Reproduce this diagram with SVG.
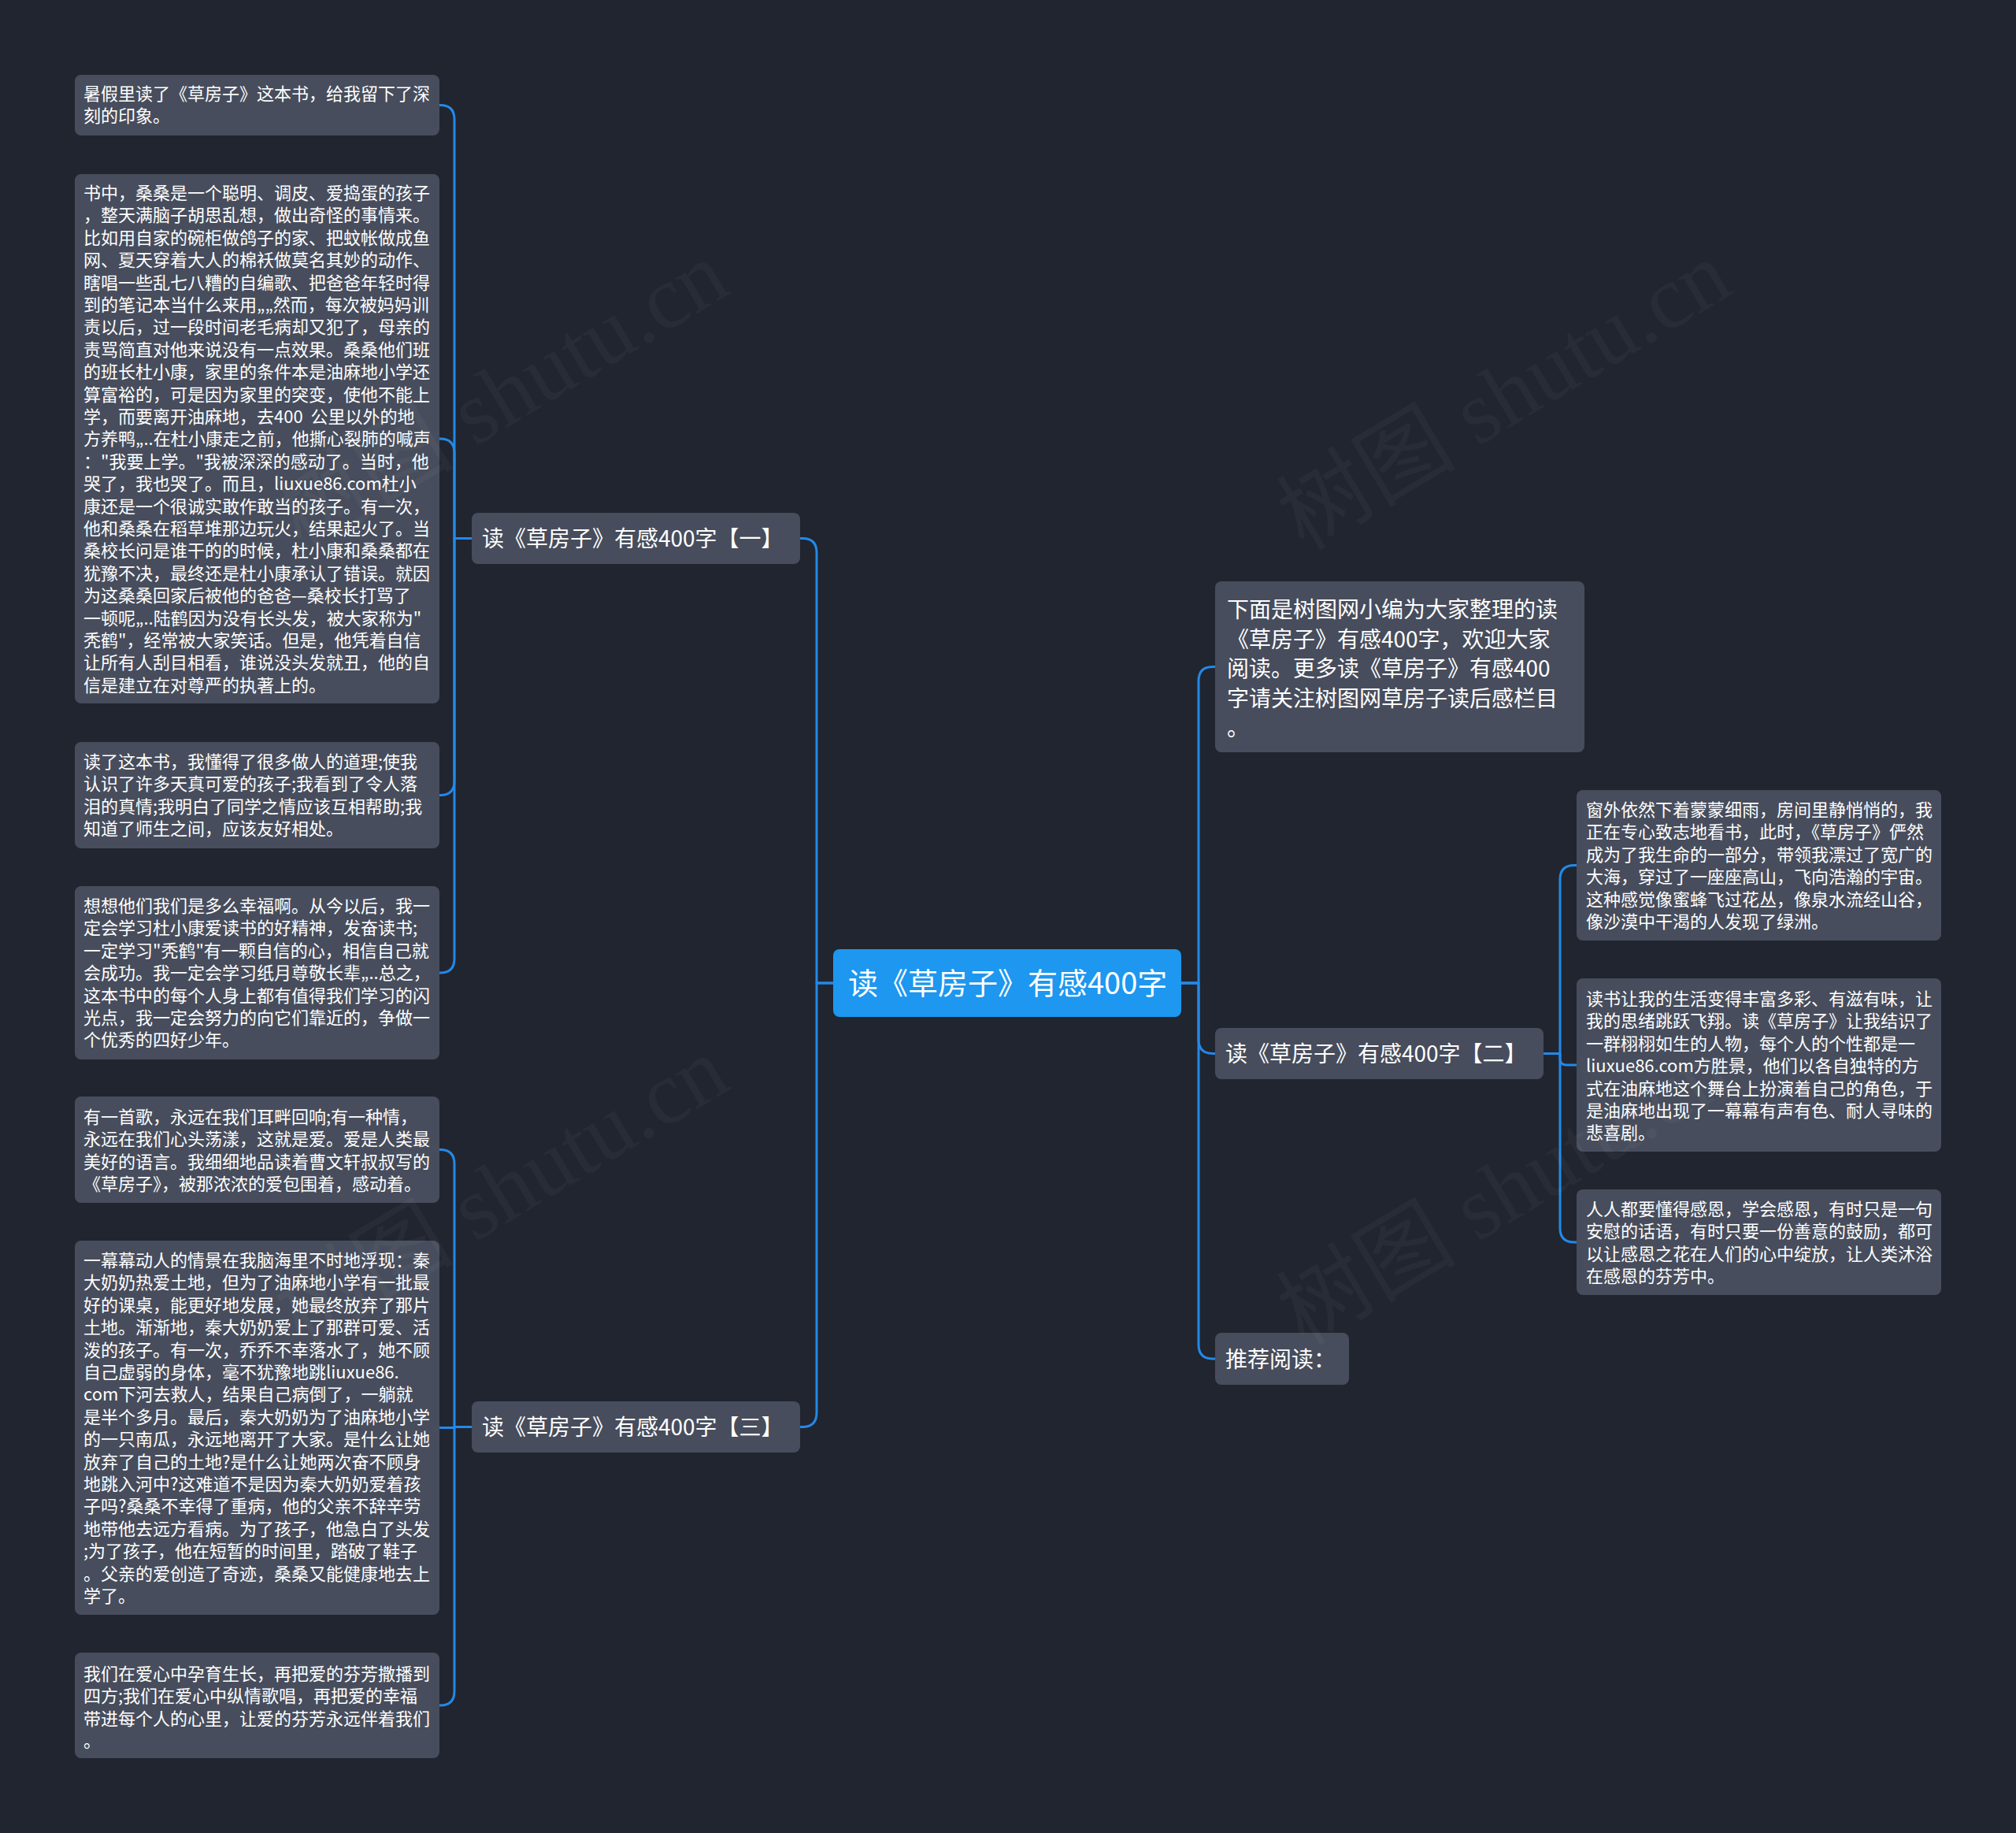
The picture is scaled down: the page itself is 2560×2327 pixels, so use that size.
<svg xmlns="http://www.w3.org/2000/svg" width="2560" height="2327" viewBox="0 0 2560 2327">
<style>
.bg{fill:#21252f}
.node{fill:#474d5c}
.root{fill:#1d97ef}
.t{font-family:"Noto Sans CJK SC","Microsoft YaHei",sans-serif;fill:#ffffff}
.s22{font-size:22px}
.s28{font-size:28px}
.s38{font-size:38px}
.edge{fill:none;stroke:#2389e8;stroke-width:3;stroke-linecap:round;stroke-linejoin:round}
.wm{font-family:"Liberation Serif","Noto Sans CJK SC",serif;font-size:114px;fill:#ffffff;fill-opacity:0.035}
</style>
<rect class="bg" x="0" y="0" width="2560" height="2327"/>

<g id="connectors">
<path class="edge" d="M1058,1248 H1037 V701.5 Q1037,683.5 1019,683.5 H1016"/>
<path class="edge" d="M1058,1248 H1037 V1793.5 Q1037,1811.5 1019,1811.5 H1016"/>
<path class="edge" d="M1500,1248 H1522 V864.5 Q1522,846.5 1540,846.5 H1543"/>
<path class="edge" d="M1500,1248 H1522 V1319.5 Q1522,1337.5 1540,1337.5 H1543"/>
<path class="edge" d="M1500,1248 H1522 V1707 Q1522,1725 1540,1725 H1543"/>
<path class="edge" d="M599,683.5 H577 V151.5 Q577,133.5 559,133.5 H558"/>
<path class="edge" d="M599,683.5 H577 V575 Q577,557 559,557 H558"/>
<path class="edge" d="M599,683.5 H577 V991.5 Q577,1009.5 559,1009.5 H558"/>
<path class="edge" d="M599,683.5 H577 V1217 Q577,1235 559,1235 H558"/>
<path class="edge" d="M599,1811.5 H577 V1477.5 Q577,1459.5 559,1459.5 H558"/>
<path class="edge" d="M599,1811.5 H577 V1812.5 H558"/>
<path class="edge" d="M599,1811.5 H577 V2147 Q577,2165 559,2165 H558"/>
<path class="edge" d="M1960,1337.5 H1981 V1116.5 Q1981,1098.5 1999,1098.5 H2002"/>
<path class="edge" d="M1960,1337.5 H1981 V1344 Q1981,1352 1989,1352 H2002"/>
<path class="edge" d="M1960,1337.5 H1981 V1559 Q1981,1577 1999,1577 H2002"/>
</g>

<g id="root">
<rect class="root" x="1058" y="1205" width="442" height="86" rx="8"/>
<text class="t s38" x="1077" y="1262">读《草房子》有感400字</text>
</g>

<g id="branch1">
<rect class="node" x="599" y="651" width="417" height="65" rx="8"/>
<text class="t s28" x="612" y="694">读《草房子》有感400字【一】</text>
</g>

<g id="branch3">
<rect class="node" x="599" y="1779" width="417" height="65" rx="8"/>
<text class="t s28" x="612" y="1822">读《草房子》有感400字【三】</text>
</g>

<g id="branch2">
<rect class="node" x="1543" y="1305" width="417" height="65" rx="8"/>
<text class="t s28" x="1556" y="1348">读《草房子》有感400字【二】</text>
</g>

<g id="recommend">
<rect class="node" x="1543" y="1692" width="170" height="66" rx="8"/>
<text class="t s28" x="1556" y="1736">推荐阅读：</text>
</g>

<g id="intro">
<rect class="node" x="1543" y="738" width="469" height="217" rx="8"/>
<text class="t s28" x="1558" y="784">
<tspan x="1558" y="784">下面是树图网小编为大家整理的读</tspan>
<tspan x="1558" y="821.5">《草房子》有感400字，欢迎大家</tspan>
<tspan x="1558" y="859">阅读。更多读《草房子》有感400</tspan>
<tspan x="1558" y="896.5">字请关注树图网草房子读后感栏目</tspan>
<tspan x="1558" y="934">。</tspan>
</text>
</g>

<g id="l1">
<rect class="node" x="95" y="95" width="463" height="77" rx="8"/>
<text class="t s22">
<tspan x="106" y="127">暑假里读了《草房子》这本书，给我留下了深</tspan>
<tspan x="106" y="155.4">刻的印象。</tspan>
</text>
</g>

<g id="l2">
<rect class="node" x="95" y="221" width="463" height="672" rx="8"/>
<text class="t s22">
<tspan x="106" y="253">书中，桑桑是一个聪明、调皮、爱捣蛋的孩子</tspan>
<tspan x="106" y="281.4">，整天满脑子胡思乱想，做出奇怪的事情来。</tspan>
<tspan x="106" y="309.8">比如用自家的碗柜做鸽子的家、把蚊帐做成鱼</tspan>
<tspan x="106" y="338.2">网、夏天穿着大人的棉袄做莫名其妙的动作、</tspan>
<tspan x="106" y="366.6">瞎唱一些乱七八糟的自编歌、把爸爸年轻时得</tspan>
<tspan x="106" y="395">到的笔记本当什么来用„„然而，每次被妈妈训</tspan>
<tspan x="106" y="423.4">责以后，过一段时间老毛病却又犯了，母亲的</tspan>
<tspan x="106" y="451.8">责骂简直对他来说没有一点效果。桑桑他们班</tspan>
<tspan x="106" y="480.2">的班长杜小康，家里的条件本是油麻地小学还</tspan>
<tspan x="106" y="508.6">算富裕的，可是因为家里的突变，使他不能上</tspan>
<tspan x="106" y="537">学，而要离开油麻地，去400&#160;&#160;公里以外的地</tspan>
<tspan x="106" y="565.4">方养鸭„..在杜小康走之前，他撕心裂肺的喊声</tspan>
<tspan x="106" y="593.8">："我要上学。"我被深深的感动了。当时，他</tspan>
<tspan x="106" y="622.2">哭了，我也哭了。而且，liuxue86.com杜小</tspan>
<tspan x="106" y="650.6">康还是一个很诚实敢作敢当的孩子。有一次，</tspan>
<tspan x="106" y="679">他和桑桑在稻草堆那边玩火，结果起火了。当</tspan>
<tspan x="106" y="707.4">桑校长问是谁干的的时候，杜小康和桑桑都在</tspan>
<tspan x="106" y="735.8">犹豫不决，最终还是杜小康承认了错误。就因</tspan>
<tspan x="106" y="764.2">为这桑桑回家后被他的爸爸—桑校长打骂了</tspan>
<tspan x="106" y="792.6">一顿呢„..陆鹤因为没有长头发，被大家称为"</tspan>
<tspan x="106" y="821">秃鹤"，经常被大家笑话。但是，他凭着自信</tspan>
<tspan x="106" y="849.4">让所有人刮目相看，谁说没头发就丑，他的自</tspan>
<tspan x="106" y="877.8">信是建立在对尊严的执著上的。</tspan>
</text>
</g>

<g id="l3">
<rect class="node" x="95" y="942" width="463" height="135" rx="8"/>
<text class="t s22">
<tspan x="106" y="975">读了这本书，我懂得了很多做人的道理;使我</tspan>
<tspan x="106" y="1003.4">认识了许多天真可爱的孩子;我看到了令人落</tspan>
<tspan x="106" y="1031.8">泪的真情;我明白了同学之情应该互相帮助;我</tspan>
<tspan x="106" y="1060.2">知道了师生之间，应该友好相处。</tspan>
</text>
</g>

<g id="l4">
<rect class="node" x="95" y="1125" width="463" height="220" rx="8"/>
<text class="t s22">
<tspan x="106" y="1158">想想他们我们是多么幸福啊。从今以后，我一</tspan>
<tspan x="106" y="1186.4">定会学习杜小康爱读书的好精神，发奋读书;</tspan>
<tspan x="106" y="1214.8">一定学习"秃鹤"有一颗自信的心，相信自己就</tspan>
<tspan x="106" y="1243.2">会成功。我一定会学习纸月尊敬长辈„..总之，</tspan>
<tspan x="106" y="1271.6">这本书中的每个人身上都有值得我们学习的闪</tspan>
<tspan x="106" y="1300">光点，我一定会努力的向它们靠近的，争做一</tspan>
<tspan x="106" y="1328.4">个优秀的四好少年。</tspan>
</text>
</g>

<g id="l5">
<rect class="node" x="95" y="1392" width="463" height="135" rx="8"/>
<text class="t s22">
<tspan x="106" y="1426">有一首歌，永远在我们耳畔回响;有一种情，</tspan>
<tspan x="106" y="1454.4">永远在我们心头荡漾，这就是爱。爱是人类最</tspan>
<tspan x="106" y="1482.8">美好的语言。我细细地品读着曹文轩叔叔写的</tspan>
<tspan x="106" y="1511.2">《草房子》，被那浓浓的爱包围着，感动着。</tspan>
</text>
</g>

<g id="l6">
<rect class="node" x="95" y="1575" width="463" height="475" rx="8"/>
<text class="t s22">
<tspan x="106" y="1608">一幕幕动人的情景在我脑海里不时地浮现：秦</tspan>
<tspan x="106" y="1636.4">大奶奶热爱土地，但为了油麻地小学有一批最</tspan>
<tspan x="106" y="1664.8">好的课桌，能更好地发展，她最终放弃了那片</tspan>
<tspan x="106" y="1693.2">土地。渐渐地，秦大奶奶爱上了那群可爱、活</tspan>
<tspan x="106" y="1721.6">泼的孩子。有一次，乔乔不幸落水了，她不顾</tspan>
<tspan x="106" y="1750">自己虚弱的身体，毫不犹豫地跳liuxue86.</tspan>
<tspan x="106" y="1778.4">com下河去救人，结果自己病倒了，一躺就</tspan>
<tspan x="106" y="1806.8">是半个多月。最后，秦大奶奶为了油麻地小学</tspan>
<tspan x="106" y="1835.2">的一只南瓜，永远地离开了大家。是什么让她</tspan>
<tspan x="106" y="1863.6">放弃了自己的土地?是什么让她两次奋不顾身</tspan>
<tspan x="106" y="1892">地跳入河中?这难道不是因为秦大奶奶爱着孩</tspan>
<tspan x="106" y="1920.4">子吗?桑桑不幸得了重病，他的父亲不辞辛劳</tspan>
<tspan x="106" y="1948.8">地带他去远方看病。为了孩子，他急白了头发</tspan>
<tspan x="106" y="1977.2">;为了孩子，他在短暂的时间里，踏破了鞋子</tspan>
<tspan x="106" y="2005.6">。父亲的爱创造了奇迹，桑桑又能健康地去上</tspan>
<tspan x="106" y="2034">学了。</tspan>
</text>
</g>

<g id="l7">
<rect class="node" x="95" y="2098" width="463" height="134" rx="8"/>
<text class="t s22">
<tspan x="106" y="2133">我们在爱心中孕育生长，再把爱的芬芳撒播到</tspan>
<tspan x="106" y="2161.4">四方;我们在爱心中纵情歌唱，再把爱的幸福</tspan>
<tspan x="106" y="2189.8">带进每个人的心里，让爱的芬芳永远伴着我们</tspan>
<tspan x="106" y="2218.2">。</tspan>
</text>
</g>

<g id="r1">
<rect class="node" x="2002" y="1003" width="463" height="191" rx="8"/>
<text class="t s22">
<tspan x="2014" y="1036">窗外依然下着蒙蒙细雨，房间里静悄悄的，我</tspan>
<tspan x="2014" y="1064.4">正在专心致志地看书，此时，《草房子》俨然</tspan>
<tspan x="2014" y="1092.8">成为了我生命的一部分，带领我漂过了宽广的</tspan>
<tspan x="2014" y="1121.2">大海，穿过了一座座高山，飞向浩瀚的宇宙。</tspan>
<tspan x="2014" y="1149.6">这种感觉像蜜蜂飞过花丛，像泉水流经山谷，</tspan>
<tspan x="2014" y="1178">像沙漠中干渴的人发现了绿洲。</tspan>
</text>
</g>

<g id="r2">
<rect class="node" x="2002" y="1242" width="463" height="220" rx="8"/>
<text class="t s22">
<tspan x="2014" y="1276">读书让我的生活变得丰富多彩、有滋有味，让</tspan>
<tspan x="2014" y="1304.4">我的思绪跳跃飞翔。读《草房子》让我结识了</tspan>
<tspan x="2014" y="1332.8">一群栩栩如生的人物，每个人的个性都是一</tspan>
<tspan x="2014" y="1361.2">liuxue86.com方胜景，他们以各自独特的方</tspan>
<tspan x="2014" y="1389.6">式在油麻地这个舞台上扮演着自己的角色，于</tspan>
<tspan x="2014" y="1418">是油麻地出现了一幕幕有声有色、耐人寻味的</tspan>
<tspan x="2014" y="1446.4">悲喜剧。</tspan>
</text>
</g>

<g id="r3">
<rect class="node" x="2002" y="1510" width="463" height="134" rx="8"/>
<text class="t s22">
<tspan x="2014" y="1543">人人都要懂得感恩，学会感恩，有时只是一句</tspan>
<tspan x="2014" y="1571.4">安慰的话语，有时只要一份善意的鼓励，都可</tspan>
<tspan x="2014" y="1599.8">以让感恩之花在人们的心中绽放，让人类沐浴</tspan>
<tspan x="2014" y="1628.2">在感恩的芬芳中。</tspan>
</text>
</g>

<g id="watermarks">
<text class="wm" x="1930" y="535" text-anchor="middle" transform="rotate(-31 1930 535)">树图 shutu.cn</text>
<text class="wm" x="657" y="535" text-anchor="middle" transform="rotate(-31 657 535)">树图 shutu.cn</text>
<text class="wm" x="1930" y="1545" text-anchor="middle" transform="rotate(-31 1930 1545)">树图 shutu.cn</text>
<text class="wm" x="657" y="1545" text-anchor="middle" transform="rotate(-31 657 1545)">树图 shutu.cn</text>
</g>
</svg>
